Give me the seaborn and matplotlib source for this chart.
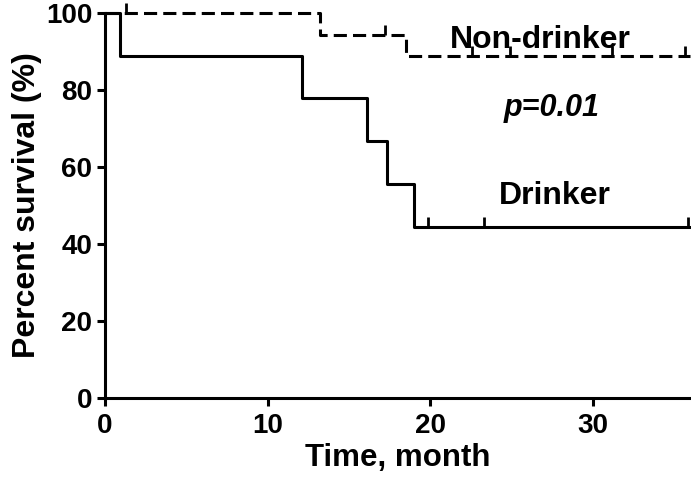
import numpy as np
import pandas as pd
import matplotlib
matplotlib.use("Agg")
import matplotlib.pyplot as plt
import seaborn as sns

# step curves (time in months, survival in %)
drinker_t = [0, 0.92, 12.1, 16.1, 17.35, 19.0, 36]
drinker_s = [100, 88.9, 77.8, 66.7, 55.6, 44.4, 44.4]
drinker_cens_t = [19.9, 23.3, 35.9]
drinker_cens_s = [44.4, 44.4, 44.4]

nondrinker_t = [0, 13.2, 18.5, 36]
nondrinker_s = [100, 94.4, 88.9, 88.9]
nondrinker_cens_t = [1.3, 17.2, 22.6, 24.9, 31.2, 35.7]
nondrinker_cens_s = [100, 94.4, 88.9, 88.9, 88.9, 88.9]

xticks = [0, 10, 20, 30]
yticks = [0, 20, 40, 60, 80, 100]

sns.set_style("ticks", {'text.color': 'black', 'axes.labelcolor': 'black',
                        'xtick.color': 'black', 'ytick.color': 'black',
                        'axes.edgecolor': 'black'})
plt.rcParams['font.family'] = ['Liberation Sans', 'DejaVu Sans']
plt.rcParams['font.weight'] = 'bold'

fig = plt.figure(figsize=(6.91, 4.87), dpi=100)
ax = fig.add_axes([105 / 691, 89 / 487, 585 / 691, 385 / 487])

lw = 2.2
df_d = pd.DataFrame({'t': drinker_t, 's': drinker_s})
df_n = pd.DataFrame({'t': nondrinker_t, 's': nondrinker_s})

sns.lineplot(data=df_d, x='t', y='s', ax=ax, color='black', lw=lw,
             drawstyle='steps-post', estimator=None, clip_on=False)
sns.lineplot(data=df_n, x='t', y='s', ax=ax, color='black', lw=lw,
             drawstyle='steps-post', estimator=None, clip_on=False,
             linestyle=(0, (4.3, 2.0)))

# censor marks
ax.plot(drinker_cens_t, drinker_cens_s, ls='', marker=2, ms=7, mew=2,
        color='black', clip_on=False)
ax.plot(nondrinker_cens_t, nondrinker_cens_s, ls='', marker=2, ms=7, mew=2,
        color='black', clip_on=False)

ax.set_xlim(0, 36)
ax.set_ylim(0, 100)
ax.set_xticks(xticks)
ax.set_yticks(yticks)
ax.tick_params(width=lw, length=6, labelsize=20, pad=3, colors='black')
ax.tick_params(axis='x', pad=5)
for lab in ax.get_xticklabels() + ax.get_yticklabels():
    lab.set_fontweight('bold')
for s in ['left', 'bottom']:
    ax.spines[s].set_linewidth(lw)
    ax.spines[s].set_color('black')
sns.despine(ax=ax)

ax.set_xlabel('Time, month', fontsize=22.5, fontweight='bold', labelpad=3, color='black')
ax.set_ylabel('Percent survival (%)', fontsize=23, fontweight='bold', labelpad=3, color='black')

ax.text(26.8, 90.9, 'Non-drinker', fontsize=23, fontweight='bold',
        ha='center', va='baseline', color='black')
ax.text(27.5, 73.3, 'p=0.01', fontsize=22, fontweight='bold', style='italic',
        ha='center', va='baseline', color='black')
ax.text(27.7, 50.3, 'Drinker', fontsize=23, fontweight='bold',
        ha='center', va='baseline', color='black')

fig.savefig('out.png', dpi=100)
